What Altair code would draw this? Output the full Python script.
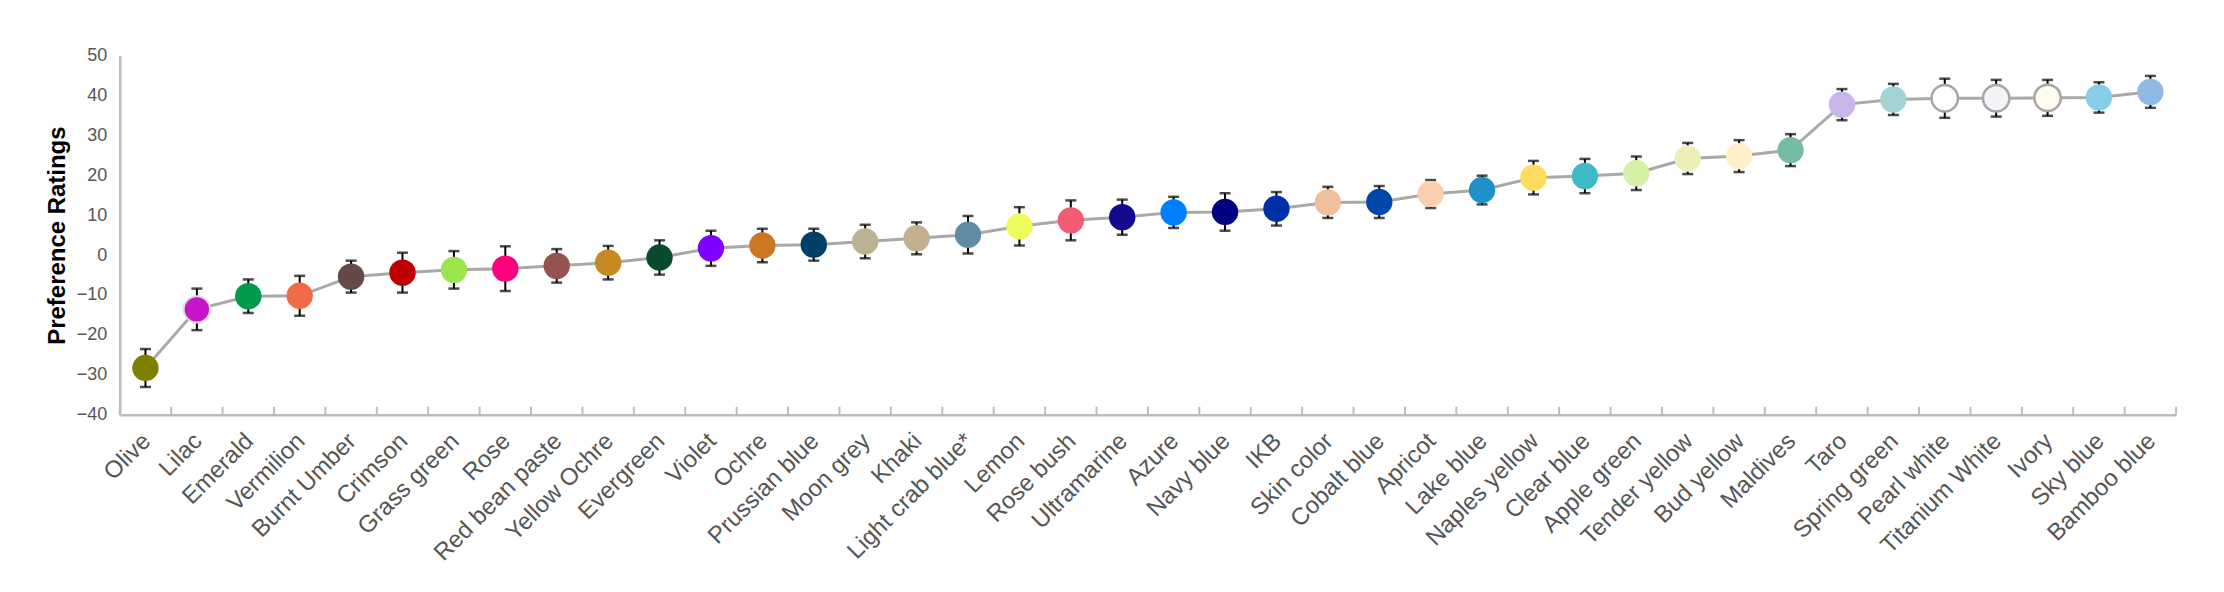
import altair as alt
import pandas as pd

categories = ["Olive", "Lilac", "Emerald", "Vermilion", "Burnt Umber", "Crimson", "Grass green",
              "Rose", "Red bean paste", "Yellow Ochre", "Evergreen", "Violet", "Ochre",
              "Prussian blue", "Moon grey", "Khaki", "Light crab blue*", "Lemon", "Rose bush",
              "Ultramarine", "Azure", "Navy blue", "IKB", "Skin color", "Cobalt blue", "Apricot",
              "Lake blue", "Naples yellow", "Clear blue", "Apple green", "Tender yellow",
              "Bud yellow", "Maldives", "Taro", "Spring green", "Pearl white", "Titanium White",
              "Ivory", "Sky blue", "Bamboo blue"]

means = [-28.3, -13.6, -10.3, -10.2, -5.4, -4.4, -3.7, -3.4, -2.7, -1.9, -0.6, 1.7, 2.4,
         2.6, 3.4, 4.2, 5.1, 7.2, 8.7, 9.5, 10.7, 10.8, 11.6, 13.2, 13.3, 15.3, 16.3, 19.4,
         19.8, 20.5, 24.2, 24.8, 26.3, 37.7, 39.0, 39.3, 39.3, 39.4, 39.5, 40.9]

errors = [4.75, 5.2, 4.2, 5.0, 4.0, 5.0, 4.7, 5.6, 4.2, 4.2, 4.3, 4.4, 4.2, 4.0, 4.2, 4.0,
          4.7, 4.8, 5.0, 4.4, 3.9, 4.7, 4.2, 3.9, 4.0, 3.5, 3.6, 4.2, 4.3, 4.2, 3.9, 4.0,
          4.0, 3.9, 3.9, 4.9, 4.6, 4.5, 3.8, 4.0]

colors = ["#808000", "#c814c8", "#009a4a", "#ef6b46", "#654848", "#c00000", "#99e64d",
          "#ff0080", "#96524f", "#c78a22", "#074a2c", "#8000ff", "#cc7722", "#003f67",
          "#bbb193", "#c4b08f", "#5f8ca2", "#f0fc5b", "#f15c74", "#120a8f", "#0080ff",
          "#000080", "#002fa7", "#f0c09c", "#0047ab", "#fbcfb0", "#1e91c7", "#ffdc5f",
          "#3fbac5", "#d5f1a5", "#eeeeb9", "#fff0c8", "#74bca3", "#c9b5ea", "#a2d4d4",
          "#fcfffb", "#f3f4f8", "#fffbf0", "#87ceea", "#8fbae6"]

outlined = ["Pearl white", "Titanium White", "Ivory"]
halo = ["Lilac"]

y_ticks = [-40, -30, -20, -10, 0, 10, 20, 30, 40, 50]
y_min, y_max = -40, 50

strokes = []
stroke_widths = []
for c, col in zip(categories, colors):
    if c in outlined:
        strokes.append("#a6a6a6")
        stroke_widths.append(2.5)
    elif c in halo:
        strokes.append("#dcdcdc")
        stroke_widths.append(2)
    else:
        strokes.append(col)
        stroke_widths.append(0)

df = pd.DataFrame({"cat": categories, "mean": means, "err": errors,
                   "color": colors, "stroke": strokes, "sw": stroke_widths})
df["lo"] = df["mean"] - df["err"]
df["hi"] = df["mean"] + df["err"]
df["tick0"] = y_min
df["tick1"] = y_min + 2

FONT = "Liberation Sans"

x_scale = alt.Scale(type="band", paddingInner=0, paddingOuter=0, domain=categories)
y_scale = alt.Scale(domain=[y_min, y_max], nice=False, zero=False)

x_axis = alt.Axis(title=None, labelAngle=-45, labelAlign="right", labelBaseline="top",
                  labelFontSize=24, labelPadding=14, labelOffset=-7, ticks=False,
                  labelOverlap=False, labelLimit=400, grid=False)
y_axis = alt.Axis(title="Preference Ratings", values=y_ticks, tickCount=len(y_ticks),
                  grid=False, ticks=False, labelOverlap=False, labelFontSize=18,
                  labelPadding=13, titleFontSize=24, titlePadding=7)


def X(band=0.5):
    return alt.X("cat:N", sort=categories, scale=x_scale, axis=x_axis, bandPosition=band)


def Y(field):
    return alt.Y(f"{field}:Q", scale=y_scale, axis=y_axis, title="Preference Ratings")


base = alt.Chart(df)

line = base.mark_line(color="#a9a9a9", strokeWidth=3).encode(x=X(), y=Y("mean"))

bars = base.mark_rule(color="#000000", strokeWidth=2).encode(x=X(), y=Y("lo"), y2="hi:Q")

cap_lo = base.mark_tick(color="#000000", size=11, thickness=2.5).encode(x=X(), y=Y("lo"))
cap_hi = base.mark_tick(color="#000000", size=11, thickness=2.5).encode(x=X(), y=Y("hi"))

points = base.mark_circle(size=700, opacity=1).encode(
    x=X(), y=Y("mean"),
    color=alt.Color("color:N", scale=None),
    stroke=alt.Stroke("stroke:N", scale=None),
    strokeWidth=alt.StrokeWidth("sw:Q", scale=None),
)

ticks_inner = base.mark_rule(color="#bdbdbd", strokeWidth=2).encode(
    x=X(0), y=Y("tick0"), y2="tick1:Q")
tick_end = base.transform_filter(alt.datum.cat == categories[-1]).mark_rule(
    color="#bdbdbd", strokeWidth=2).encode(x=X(1), y=Y("tick0"), y2="tick1:Q")

chart = alt.layer(line, ticks_inner, tick_end, bars, cap_lo, cap_hi, points).properties(
    width=2061, height=360,
    autosize=alt.AutoSizeParams(type="none"),
    padding={"left": 112, "top": 47, "right": 40, "bottom": 160},
    background="#ffffff",
).configure_view(strokeWidth=0, stroke="transparent").configure_axis(
    labelFont=FONT, titleFont=FONT, labelColor="#555555", domainColor="#bdbdbd",
    domainWidth=2.5, grid=False, titleColor="#000000", titleFontWeight="bold"
).configure_axisY(tickCount=9, labelOverlap=False, labelFontSize=18, titleFontSize=24)

chart.save("out.html", embed_options={"renderer": "svg", "actions": False})
